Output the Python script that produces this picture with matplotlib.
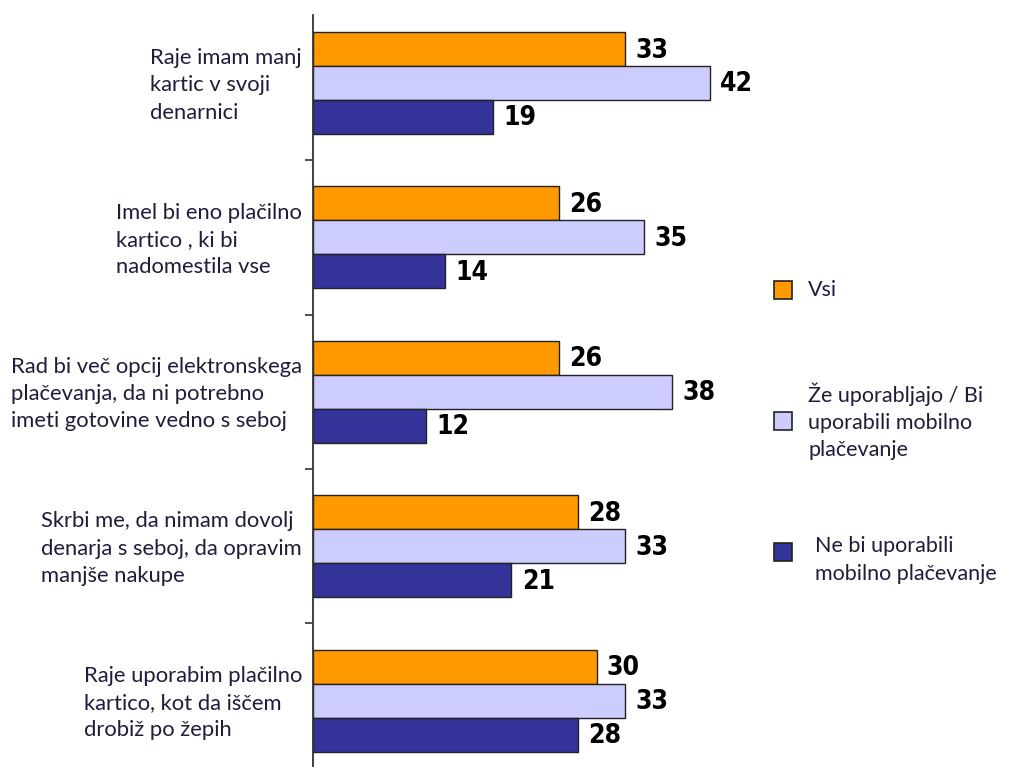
import numpy as np
import matplotlib
matplotlib.use("Agg")
import matplotlib.pyplot as plt
from matplotlib.patches import Rectangle

# data
categories = [
    "Raje imam manj\nkartic v svoji\ndenarnici",
    "Imel bi eno plačilno\nkartico , ki bi\nnadomestila vse",
    "Rad bi več opcij elektronskega\nplačevanja, da ni potrebno\nimeti gotovine vedno s seboj",
    "Skrbi me, da nimam dovolj\ndenarja s seboj, da opravim\nmanjše nakupe",
    "Raje uporabim plačilno\nkartico, kot da iščem\ndrobiž po žepih",
]
series_names = [
    "Vsi",
    "Že uporabljajo / Bi\nuporabili mobilno\nplačevanje",
    "Ne bi uporabili\nmobilno plačevanje",
]
vsi = [33, 26, 26, 28, 30]
ze_uporabljajo = [42, 35, 38, 33, 33]
ne_bi = [19, 14, 12, 21, 28]

colors = ["#FF9900", "#CCCCFF", "#333399"]
text_color = "#1e1e3c"

fig = plt.figure(figsize=(10.09, 7.67), dpi=100)
W, H = 1009, 767
ax = fig.add_axes([313 / W, 0, 696 / W, 752 / H])

y = np.arange(len(categories))
h = 0.22
for vals, off, col in zip([vsi, ze_uporabljajo, ne_bi], [-h, 0, h], colors):
    bars = ax.barh(y + off, vals, height=h, color=col, edgecolor="#222222", linewidth=1.0)
    for b, v in zip(bars, vals):
        ax.text(b.get_width() + 1.1, b.get_y() + b.get_height() / 2 + 0.01, str(v),
                va="center", ha="left", fontsize=19, fontweight="bold",
                family="DejaVu Sans", stretch="condensed", color="black")

ax.set_xlim(0, 696 / 9.45)
ax.set_ylim(4.43, -0.44)

for s in ["top", "right", "bottom"]:
    ax.spines[s].set_visible(False)
ax.spines["left"].set_linewidth(1.3)
ax.spines["left"].set_color("#333333")
ax.set_xticks([])

ax.set_yticks(y - 0.02)
ax.set_yticklabels(categories, fontsize=15.8, family="Lato", color=text_color,
                   linespacing=1.45)
for lbl in ax.get_yticklabels():
    lbl.set_multialignment("left")
ax.tick_params(axis="y", which="major", length=0, pad=8)
ax.set_yticks(y[:-1] + 0.5, minor=True)
ax.tick_params(axis="y", which="minor", length=6, width=1.2, color="#333333")

# legend
leg_y = [290, 421, 552]
text_x = [808, 808, 815]
for name, col, ly, tx in zip(series_names, colors, leg_y, text_x):
    fig.patches.append(Rectangle((774 / W, 1 - (ly + 9) / H), 18 / W, 18 / H,
                                 transform=fig.transFigure, facecolor=col,
                                 edgecolor="#222222", linewidth=1.2))
    ty = ly
    if name.startswith("Ne"):
        ty = ly + 8
    fig.text(tx / W, 1 - ty / H, name, fontsize=15.5, family="Lato",
             color=text_color, va="center", ha="left", linespacing=1.45)

fig.savefig("out.png", dpi=100)
